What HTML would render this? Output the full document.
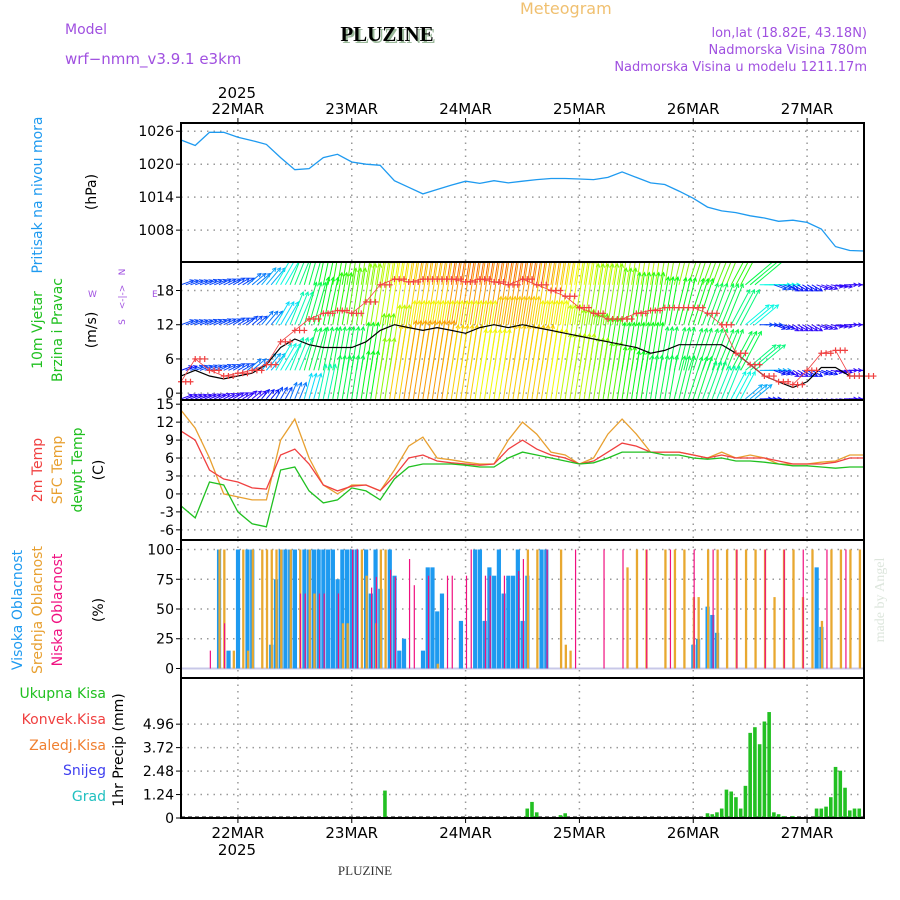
<!DOCTYPE html>
<html><head><meta charset="utf-8"><style>
body{margin:0;background:#fff;}
svg{display:block;font-family:"DejaVu Sans","Liberation Sans",sans-serif;}
</style></head><body>
<svg id="c" width="900" height="900" viewBox="0 0 900 900">
<text x="65" y="34" font-size="14" fill="#a050e0">Model</text>
<text x="65" y="64" font-size="15" fill="#a050e0">wrf−nmm_v3.9.1  e3km</text>
<text x="520" y="14" font-size="16" fill="#f0c070">Meteogram</text>
<text x="389" y="43" font-size="21" font-weight="bold" fill="#9ab89a" text-anchor="middle" font-family="Liberation Serif,serif">PLUZINE</text>
<text x="387" y="41" font-size="21" font-weight="bold" fill="#000" text-anchor="middle" font-family="Liberation Serif,serif">PLUZINE</text>
<text x="867" y="37" font-size="13" fill="#a050e0" text-anchor="end">lon,lat (18.82E, 43.18N)</text>
<text x="867" y="54" font-size="13" fill="#a050e0" text-anchor="end">Nadmorska Visina 780m</text>
<text x="867" y="71" font-size="13" fill="#a050e0" text-anchor="end">Nadmorska Visina u modelu 1211.17m</text>
<text x="237" y="98" font-size="15" fill="#000" text-anchor="middle">2025</text>
<text x="365" y="875" font-size="13" fill="#333" text-anchor="middle" font-family="Liberation Serif,serif">PLUZINE</text>
<text transform="translate(884,600) rotate(-90)" font-size="14" fill="#dde6dd" text-anchor="middle" font-family="Liberation Serif,serif">made by Angel</text>
<g id="labels" font-size="13"></g>
<g id="plots"></g>
</svg>
<script>
const days=["22MAR","23MAR","24MAR","25MAR","26MAR","27MAR"];
const pressure=[1024.4,1023.4,1025.8,1025.8,1024.9,1024.3,1023.6,1021.2,1019,1019.2,1021.2,1021.8,1020.4,1020,1019.8,1017,1015.8,1014.6,1015.4,1016.2,1016.9,1016.5,1017,1016.6,1016.9,1017.2,1017.4,1017.4,1017.3,1017.2,1017.6,1018.6,1017.6,1016.6,1016.3,1015.1,1013.8,1012.2,1011.5,1011.2,1010.6,1010.2,1009.6,1009.8,1009.4,1008.2,1005,1004.3,1004.2];
const pTicks=[1008,1014,1020,1026];
const windSpeed=[3,4,3,2.5,3,3.5,5,8,9.5,8.5,8,8,8,9,11,12,11.5,11,11.5,11,10.5,11.5,12,11.5,12,11.5,11,10.5,10,9.5,9,8.5,8,7,7.5,8.5,8.5,8.5,8.5,7,5,3,2,1,2,4.5,4.5,3,3];
const windGust=[2,6,4,3,3.5,4,5,9,11,13,14,14.5,14,16,19,20,19.5,20,20,20,19.5,20,19.5,19,20,19,18,17,15,14,13,13,14,14.5,15,15,15,14,12,7,5,3,2,1.5,4,7,7.5,3,3];
const row1=[3,3,3,3,3,4,5,7,9,10,11,12,13,14,15,16,17,18,18,19,19,19,19,19,19,19,18,17,16,16,16,15,15,15,14,14,13,13,13,12,10,7,3,2,2,1,1,1,1];
const row2=[3,3,3,3,3,3,4,6,8,10,11,12,13,14,15,16,17,17,17,18,18,18,18,18,18,17,17,16,15,14,14,13,12,12,11,11,11,10,10,9,7,3,2,1,1,1,1,1,1];
const row3=[2,3,3,3,3,4,5,7,8,10,10,10,10,11,13,15,16,16,16,16,16,16,17,17,17,16,16,15,14,13,12,11,11,11,10,10,10,10,10,10,9,5,2,1,2,2,1,1,1];
const row4=[1,1,1,1,1,1,2,3,4,6,8,10,10,11,14,17,18,18,18,17,17,16,16,17,17,17,16,15,15,14,13,12,11,10,10,10,10,9,8,7,5,2,1,1,1,1,1,1,1];
const windDir=[70,70,68,65,60,50,40,30,22,16,12,10,9,9,9,9,9,9,9,9,9,9,9,9,9,9,9,9,9,9,9,9,9,9,10,14,18,20,22,28,50,90,110,120,120,110,100,90,90];
const rowBases=[19,12,4,-1];
const wTicks=[0,6,12,18];
const t2m=[10.5,9,4,2.5,2,1,0.8,6.5,7.5,5,1.5,0.5,1.3,1.5,0.5,3,6,6.5,5.5,5.2,5,4.8,5,7.5,9,7.5,6.5,6,5,5.5,7,8.5,8,7,7,7,6.5,6,6.5,6,6,6,5.5,5,5,5,5.3,6,6];
const tSfc=[14,11,6,0,-0.5,-1,-1,9,12.5,6,1.5,0,1.5,1.5,0.5,4,8,9.5,6,5.7,5.3,5,5,9,12,10,7,6.5,5,6,10,12.5,10,7,7,7,6.5,6,7,6,6.5,6,5,5,5,5.3,5.5,6.5,6.5];
const tDew=[-2,-4,2,1.5,-3,-5,-5.5,4,4.5,0.5,-1.5,-1,1,0.5,-1,2.5,4.5,5,5,5,4.8,4.5,4.5,6,7,6.5,6,5.5,5,5.2,6,7,7,7,6.5,6.5,6,5.8,6,5.5,5.5,5.3,5,4.7,4.7,4.5,4.3,4.5,4.5];
const tTicks=[-6,-3,0,3,6,9,12,15];
const highHours=[8,10,12,14,15,19,20,21,22,23,24,26,27,28,29,30,31,32,33,34,35,36,37,39,40,41,42,44,45,46,47,51,52,53,54,55,59,62,63,64,65,66,67,68,69,70,71,72,73,76,77,108,109,111,112,113,134,135];
const highVals=[100,15,100,100,100,20,75,100,100,100,100,100,100,100,100,100,100,100,75,100,100,100,100,100,63,100,67,100,78,15,25,15,85,85,48,63,40,100,100,40,85,78,100,63,78,78,100,40,78,100,100,20,25,52,45,30,85,35];
const midHours=[8,9,11,13,14,15,17,18,19,20,21,23,25,27,28,34,35,38,39,41,42,43,54,73,75,80,81,82,94,96,98,102,104,106,108,109,111,113,115,117,119,121,123,125,127,129,131,133,135,137,139,141,143];
const midVals=[100,100,15,100,15,100,100,100,100,100,100,100,100,100,63,38,38,100,78,38,100,100,4,100,100,100,20,15,85,100,100,100,100,100,60,60,100,100,100,100,100,100,100,60,100,100,60,100,40,100,100,100,100];
const lowHours=[6,9,25,26,29,30,33,36,37,40,41,44,45,48,49,52,56,57,60,61,64,65,68,71,72,77,83,89,93,98,103,108,112,117,123,127,131,136,140];
const lowVals=[15,38,63,63,63,63,63,100,100,68,77,83,77,92,70,78,78,78,78,100,78,78,78,82,92,100,100,100,100,100,100,100,100,100,100,100,100,100,100];
const cTicks=[0,25,50,75,100];
const precipHours=[43,73,74,75,80,81,111,112,113,114,115,116,117,118,119,120,121,122,123,124,125,126,127,129,134,135,136,137,138,139,140,141,142,143];
const precipVals=[1.45,0.5,0.85,0.3,0.15,0.25,0.25,0.2,0.3,0.5,1.5,1.4,1.1,0.5,1.7,4.5,4.8,3.9,5.1,5.6,0.3,0.2,0.1,0.1,0.5,0.5,0.6,1.1,2.7,2.5,1.6,0.4,0.5,0.5];
const prTicks=[0,1.24,2.48,3.72,4.96];

const NS="http://www.w3.org/2000/svg";
const plots=document.getElementById('plots'), labels=document.getElementById('labels');
function el(tag,attrs,parent){const e=document.createElementNS(NS,tag);for(const k in attrs)e.setAttribute(k,attrs[k]);(parent||plots).appendChild(e);return e;}
const X0=181,X1=864,HRS=144;
const xH=h=>X0+(X1-X0)*h/HRS;
const x3=i=>xH(i*3);
const xDay=d=>xH(12+24*d);
const panels=[
 {y0:123,y1:262,v0:1002.2,v1:1027.5},
 {y0:262,y1:400,v0:-1.2,v1:23},
 {y0:400,y1:540,v0:-7.7,v1:15.7},
 {y0:540,y1:678,v0:-8,v1:108},
 {y0:678,y1:818,v0:0,v1:7.4}];
const yS=(p,v)=>p.y1-(v-p.v0)/(p.v1-p.v0)*(p.y1-p.y0);
const yP=v=>yS(panels[0],v),yW=v=>yS(panels[1],v),yT=v=>yS(panels[2],v),yC=v=>yS(panels[3],v),yR=v=>yS(panels[4],v);

function grid(p,ticks,yf,labelsArr,name){
  ticks.forEach((t,i)=>{
    const y=yf(t);
    const g=el('line',{x1:X0,x2:X1,y1:y,y2:y,stroke:'#999','stroke-dasharray':'1.5,5','stroke-width':1.5});
    
    
    el('line',{x1:X0-5,x2:X0,y1:y,y2:y,stroke:'#000'});
    const tx=el('text',{x:X0-7,y:y+5,'font-size':14,'text-anchor':'end',fill:'#000'});
    tx.textContent=labelsArr?labelsArr[i]:t;
    
    
  });
  days.forEach((d,i)=>{
    const x=xDay(i);
    const v=el('line',{x1:x,x2:x,y1:p.y0,y2:p.y1,stroke:'#999','stroke-dasharray':'1.5,5','stroke-width':1.5});
    
    
  });
}
function line(xs,vals,yf,color,name,w){
  const pts=vals.map((v,i)=>xs(i).toFixed(1)+','+yf(v).toFixed(1)).join(' ');
  const l=el('polyline',{points:pts,fill:'none',stroke:color,'stroke-width':w||1.3});
  
  
}
const defs=el('defs',{});
panels.forEach((p,i)=>{const c=el('clipPath',{id:'cp'+i},defs);el('rect',{x:X0,y:p.y0,width:X1-X0,height:p.y1-p.y0},c);});

grid(panels[0],pTicks,yP,null,'pressure');
line(x3,pressure,yP,'#1e9af0','pressure-line',1.3);

grid(panels[1],wTicks,yW,null,'wind');
const wg=el('g',{'clip-path':'url(#cp1)'});
const rows=[row1,row2,row3,row4];
const hue=s=>Math.max(5,Math.min(265,262-12.5*s));
rows.forEach((r,ri)=>{
  r.forEach((s,i)=>{
    for(let k=0;k<3;k++){
      const h=i*3+k-1; if(h<0||h>HRS)continue;
      const x=xH(h),y=yW(rowBases[ri]);
      const len=Math.max(12,s*4.4),a=windDir[i]*Math.PI/180;
      const x2=x+len*Math.sin(a),y2=y-len*Math.cos(a);
      const c='hsl('+hue(s)+',95%,50%)';
      const ar=el('line',{x1:x,y1:y,x2:x2,y2:y2,stroke:c,'stroke-width':1},wg);
      
      
      const b1=a+Math.PI-0.5,b2=a+Math.PI+0.5;
      el('polyline',{points:(x2+4*Math.sin(b1))+','+(y2-4*Math.cos(b1))+' '+x2+','+y2+' '+(x2+4*Math.sin(b2))+','+(y2-4*Math.cos(b2)),fill:'none',stroke:c,'stroke-width':1},wg);
    }
  });
});
line(x3,windSpeed,yW,'#000','wind-speed-line',1.2);
windGust.forEach((g,i)=>{
  for(let k=0;k<3;k++){const x=xH(i*3+k),y=yW(g);
    const m=el('path',{d:`M${x-3},${y}h6M${x},${y-3}v6`,stroke:'#f04040','stroke-width':1.2});
    
    }
});
line(x3,windGust,yW,'#f04040','gust-line',0.8);

grid(panels[2],tTicks,yT,null,'temp');
line(x3,tSfc,yT,'#e8a030','sfc-temp-line',1.3);
line(x3,t2m,yT,'#f04040','2m-temp-line',1.3);
line(x3,tDew,yT,'#20c020','dewpt-line',1.3);

grid(panels[3],cTicks,yC,null,'cloud');
el('line',{x1:X0,x2:X1,y1:yC(0),y2:yC(0),stroke:'#c8c8e8','stroke-width':2});
highHours.forEach((h,i)=>{const r=el('rect',{x:xH(h)-2,y:yC(highVals[i]),width:4.2,height:yC(0)-yC(highVals[i]),fill:'#1e9af0'});
  });
midHours.forEach((h,i)=>{const r=el('rect',{x:xH(h)-0.5,y:yC(midVals[i]),width:2.3,height:yC(0)-yC(midVals[i]),fill:'#e8a830'});
  });
lowHours.forEach((h,i)=>{const r=el('rect',{x:xH(h)+0.3,y:yC(lowVals[i]),width:1.2,height:yC(0)-yC(lowVals[i]),fill:'#f01080'});
  });

grid(panels[4],prTicks,yR,["0","1.24","2.48","3.72","4.96"],'precip');
el('line',{x1:X0,x2:X1,y1:yR(0)-1,y2:yR(0)-1,stroke:'#000','stroke-dasharray':'4,3','stroke-width':1});
precipHours.forEach((h,i)=>{const r=el('rect',{x:xH(h)-1.8,y:yR(precipVals[i]),width:3.6,height:yR(0)-yR(precipVals[i]),fill:'#22c022'});
  });

panels.forEach((p,i)=>{const f=el('rect',{x:X0,y:p.y0,width:X1-X0,height:p.y1-p.y0,fill:'none',stroke:'#000','stroke-width':2});
  });
days.forEach((d,i)=>{const x=xDay(i);
  el('line',{x1:x,x2:x,y1:118,y2:123,stroke:'#000'});
  el('line',{x1:x,x2:x,y1:818,y2:823,stroke:'#000'});
  const t=el('text',{x:x,y:114,'font-size':15,'text-anchor':'middle'});t.textContent=d;
  
  const b=el('text',{x:x,y:838,'font-size':15,'text-anchor':'middle'});b.textContent=d;
  
});
const yr=el('text',{x:237,y:855,'font-size':15,'text-anchor':'middle'});yr.textContent='2025';


function vlab(x,y,txt,color,name,fs){const t=el('text',{transform:`translate(${x},${y}) rotate(-90)`,'font-size':fs||14,fill:color,'text-anchor':'middle'},labels);t.textContent=txt;
  }
function hlab(x,y,txt,color,name){const t=el('text',{x:x,y:y,'font-size':14,fill:color,'text-anchor':'end'},labels);t.textContent=txt;
  }
vlab(42,195,'Pritisak na nivou mora','#1e9af0','pressure-axis-title');
vlab(96,192,'(hPa)','#000','pressure-unit');
vlab(42,330,'10m Vjetar','#20c020','wind-title-1');
vlab(62,330,'Brzina i Pravac','#20c020','wind-title-2');
vlab(96,330,'(m/s)','#000','wind-unit');
const cp=el('g',{'font-size':9,fill:'#a050e0'},labels);

[['W',88,297],['E',152,297]].forEach(a=>{const t=el('text',{x:a[1],y:a[2]},cp);t.textContent=a[0];});
el('text',{transform:'translate(125,272) rotate(-90)','text-anchor':'middle'},cp).textContent='N';
el('text',{transform:'translate(125,322) rotate(-90)','text-anchor':'middle'},cp).textContent='S';
el('text',{transform:'translate(125,297) rotate(-90)','text-anchor':'middle'},cp).textContent='<-|->';
vlab(42,470,'2m Temp','#f04040','temp-2m-title');
vlab(62,470,'SFC Temp','#e8a030','temp-sfc-title');
vlab(82,470,'dewpt Temp','#20c020','temp-dewpt-title');
vlab(103,470,'(C)','#000','temp-unit');
vlab(22,610,'Visoka Oblacnost','#1e9af0','high-cloud-title');
vlab(42,610,'Srednja Oblacnost','#e8a030','mid-cloud-title');
vlab(62,610,'Niska Oblacnost','#f01080','low-cloud-title');
vlab(103,610,'(%)','#000','cloud-unit');
hlab(106,698,'Ukupna Kisa','#20c020','legend-total-rain');
hlab(106,724,'Konvek.Kisa','#f04040','legend-convective-rain');
hlab(106,750,'Zaledj.Kisa','#f08030','legend-freezing-rain');
hlab(106,775,'Snijeg','#4040f0','legend-snow');
hlab(106,801,'Grad','#20c0c0','legend-hail');
vlab(123,750,'1hr Precip (mm)','#000','precip-unit');
</script>
</body></html>
